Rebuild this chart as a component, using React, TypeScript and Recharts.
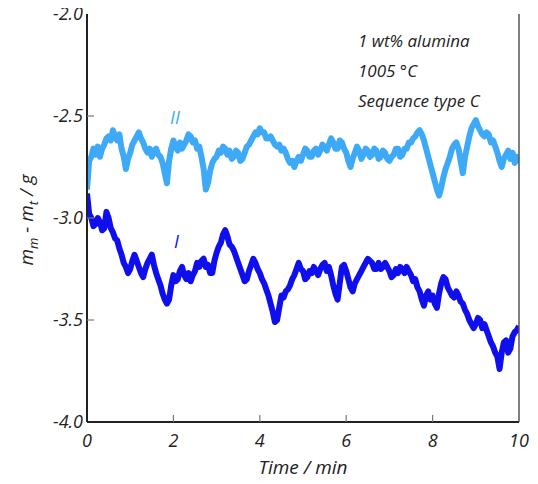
import React from 'react';
import { LineChart, Line, XAxis, YAxis } from 'recharts';

// m_m - m_t in g, read every 0.05 min from 0 to 10 min
const valuesII = [
    -2.86, -2.72, -2.70, -2.66, -2.69, -2.65, -2.70, -2.66, -2.64, -2.61,
    -2.60, -2.62, -2.57, -2.60, -2.62, -2.59, -2.66, -2.70, -2.76, -2.71,
    -2.68, -2.64, -2.62, -2.60, -2.58, -2.61, -2.63, -2.66, -2.68, -2.66,
    -2.70, -2.67, -2.66, -2.69, -2.70, -2.73, -2.78, -2.83, -2.72, -2.66,
    -2.62, -2.65, -2.67, -2.63, -2.66, -2.64, -2.62, -2.59, -2.60, -2.63,
    -2.62, -2.66, -2.65, -2.70, -2.76, -2.86, -2.83, -2.77, -2.73, -2.71,
    -2.70, -2.67, -2.68, -2.65, -2.66, -2.69, -2.67, -2.71, -2.70, -2.67,
    -2.68, -2.72, -2.71, -2.68, -2.65, -2.64, -2.62, -2.60, -2.58, -2.59,
    -2.56, -2.58, -2.58, -2.61, -2.61, -2.60, -2.62, -2.64, -2.65, -2.64,
    -2.67, -2.66, -2.68, -2.71, -2.73, -2.72, -2.75, -2.72, -2.70, -2.72,
    -2.69, -2.66, -2.67, -2.70, -2.70, -2.67, -2.66, -2.69, -2.67, -2.64,
    -2.65, -2.67, -2.64, -2.61, -2.63, -2.66, -2.66, -2.62, -2.63, -2.66,
    -2.68, -2.72, -2.75, -2.71, -2.68, -2.65, -2.67, -2.71, -2.69, -2.66,
    -2.67, -2.70, -2.69, -2.66, -2.67, -2.71, -2.70, -2.67, -2.68, -2.71,
    -2.72, -2.70, -2.69, -2.66, -2.66, -2.70, -2.69, -2.66, -2.66, -2.63,
    -2.63, -2.61, -2.60, -2.58, -2.57, -2.59, -2.62, -2.66, -2.70, -2.74,
    -2.78, -2.82, -2.86, -2.89, -2.85, -2.80, -2.76, -2.73, -2.70, -2.66,
    -2.64, -2.63, -2.66, -2.72, -2.78, -2.70, -2.65, -2.60, -2.56, -2.54,
    -2.52, -2.55, -2.57, -2.59, -2.60, -2.58, -2.59, -2.63, -2.62, -2.65,
    -2.68, -2.72, -2.75, -2.71, -2.69, -2.67, -2.71, -2.68, -2.73, -2.70,
    -2.73,
];

const valuesI = [
    -2.88, -2.98, -3.00, -3.04, -3.03, -3.00, -3.02, -3.06, -3.05, -2.97,
    -3.00, -3.05, -3.07, -3.10, -3.11, -3.15, -3.18, -3.22, -3.24, -3.27,
    -3.25, -3.21, -3.18, -3.21, -3.24, -3.27, -3.29, -3.25, -3.22, -3.20,
    -3.18, -3.23, -3.27, -3.30, -3.33, -3.37, -3.40, -3.42, -3.40, -3.33,
    -3.28, -3.31, -3.30, -3.26, -3.24, -3.28, -3.30, -3.27, -3.31, -3.28,
    -3.26, -3.22, -3.24, -3.21, -3.20, -3.24, -3.23, -3.27, -3.27, -3.21,
    -3.17, -3.14, -3.12, -3.08, -3.06, -3.09, -3.13, -3.14, -3.16, -3.19,
    -3.22, -3.25, -3.28, -3.31, -3.30, -3.26, -3.23, -3.20, -3.22, -3.25,
    -3.27, -3.30, -3.32, -3.35, -3.38, -3.42, -3.46, -3.51, -3.50, -3.44,
    -3.38, -3.39, -3.36, -3.35, -3.33, -3.30, -3.28, -3.25, -3.22, -3.25,
    -3.26, -3.30, -3.29, -3.26, -3.27, -3.24, -3.26, -3.28, -3.25, -3.23,
    -3.22, -3.26, -3.24, -3.28, -3.33, -3.37, -3.40, -3.32, -3.24, -3.23,
    -3.26, -3.30, -3.34, -3.36, -3.32, -3.30, -3.28, -3.26, -3.24, -3.22,
    -3.20, -3.21, -3.22, -3.25, -3.25, -3.22, -3.25, -3.24, -3.22, -3.24,
    -3.26, -3.29, -3.28, -3.25, -3.27, -3.24, -3.25, -3.27, -3.24, -3.26,
    -3.28, -3.31, -3.30, -3.34, -3.36, -3.40, -3.43, -3.38, -3.36, -3.40,
    -3.38, -3.42, -3.44, -3.37, -3.32, -3.29, -3.30, -3.34, -3.36, -3.38,
    -3.39, -3.36, -3.38, -3.41, -3.42, -3.45, -3.47, -3.50, -3.52, -3.54,
    -3.52, -3.49, -3.50, -3.54, -3.52, -3.55, -3.58, -3.61, -3.63, -3.66,
    -3.68, -3.74, -3.66, -3.61, -3.60, -3.66, -3.64, -3.58, -3.56, -3.55,
    -3.53,
];

const STEP = 0.05; // sampling interval, min
const xTicks = [0, 2, 4, 6, 8, 10];
const yTicks = [-4.0, -3.5, -3.0, -2.5, -2.0];
const notes = ['1 wt% alumina', '1005 \u00b0C', 'Sequence type C'];

const seriesI = valuesI.map((v, i) => ({ t: +(i * STEP).toFixed(2), v }));
const seriesII = valuesII.map((v, i) => ({ t: +(i * STEP).toFixed(2), v }));

const FONT = '"Open Sans", sans-serif';
const TICK_GREY = '#777';
const LIGHT = '#3DA9F7';
const DARK = '#0F0FEE';

const BottomTick = (props: any) => {
    const { x, y, payload } = props;
    const inner = payload.value !== 0 && payload.value !== 10;
    return (
        <g>
            {inner && <line x1={x} y1={y} x2={x} y2={y - 7} stroke={TICK_GREY} strokeWidth={1.2} />}
            <text x={x} y={y + 25} textAnchor="middle" fontSize={18} fontStyle="italic" fontFamily={FONT} fill="#222">
                {payload.value}
            </text>
        </g>
    );
};

const TopTick = (props: any) => {
    const { x, y, payload } = props;
    if (payload.value === 0 || payload.value === 10) return <g />;
    return <line x1={x} y1={y} x2={x} y2={y + 7} stroke={TICK_GREY} strokeWidth={1.2} />;
};

const LeftTick = (props: any) => {
    const { x, y, payload } = props;
    const inner = payload.value !== -4 && payload.value !== -2;
    return (
        <g>
            {inner && <line x1={x} y1={y} x2={x + 7} y2={y} stroke={TICK_GREY} strokeWidth={1.2} />}
            <text x={x - 4} y={y} dy="0.36em" textAnchor="end" fontSize={18} fontStyle="italic" fontFamily={FONT} fill="#222">
                {payload.value.toFixed(1)}
            </text>
        </g>
    );
};

const RightTick = (props: any) => {
    const { x, y, payload } = props;
    if (payload.value === -4 || payload.value === -2) return <g />;
    return <line x1={x} y1={y} x2={x - 7} y2={y} stroke={TICK_GREY} strokeWidth={1.2} />;
};

const YTitle = (props: any) => {
    const { viewBox } = props;
    const cx = viewBox.x + 33;
    const cy = viewBox.y + viewBox.height / 2 + 2;
    return (
        <text transform={`translate(${cx},${cy}) rotate(-90)`} textAnchor="middle" fontSize={19} fontStyle="italic" fontFamily={FONT} fill="#222">
            m<tspan fontSize={13} dy={5}>m</tspan>
            <tspan dy={-5}> - m</tspan>
            <tspan fontSize={13} dy={5}>t</tspan>
            <tspan dy={-5}>{'  /  g'}</tspan>
        </text>
    );
};

const XTitle = (props: any) => {
    const { viewBox } = props;
    return (
        <text x={viewBox.x + viewBox.width / 2} y={viewBox.y + 52} textAnchor="middle" fontSize={19} fontStyle="italic" fontFamily={FONT} fill="#222">
            {'Time  /  min'}
        </text>
    );
};

export default function App() {
    return (
        <div style={{ marginTop: -8, marginLeft: -8, width: 538, height: 484 }}>
            <LineChart width={538} height={484} margin={{ top: 14, right: 0, left: 0, bottom: 0 }}>
                <XAxis
                    xAxisId={0}
                    dataKey="t"
                    type="number"
                    domain={[0, 10]}
                    ticks={xTicks}
                    height={62}
                    axisLine={{ stroke: '#222', strokeWidth: 2 }}
                    tickLine={false}
                    tickSize={0}
                    tickMargin={0}
                    tick={<BottomTick />}
                    interval={0}
                    label={<XTitle />}
                    allowDataOverflow
                />
                <XAxis
                    xAxisId="top"
                    orientation="top"
                    type="number"
                    domain={[0, 10]}
                    ticks={xTicks}
                    height={0}
                    axisLine={{ stroke: '#555', strokeWidth: 1.5 }}
                    tickLine={false}
                    tickSize={0}
                    tickMargin={0}
                    tick={<TopTick />}
                    interval={0}
                />
                <YAxis
                    yAxisId={0}
                    type="number"
                    domain={[-4, -2]}
                    ticks={yTicks}
                    width={87}
                    axisLine={{ stroke: '#222', strokeWidth: 2 }}
                    tickLine={false}
                    tickSize={0}
                    tickMargin={0}
                    tick={<LeftTick />}
                    interval={0}
                    label={<YTitle />}
                    allowDataOverflow
                />
                <YAxis
                    yAxisId="right"
                    orientation="right"
                    type="number"
                    domain={[-4, -2]}
                    ticks={yTicks}
                    width={19}
                    axisLine={{ stroke: '#555', strokeWidth: 1.5 }}
                    tickLine={false}
                    tickSize={0}
                    tickMargin={0}
                    tick={<RightTick />}
                    interval={0}
                />
                <Line data={seriesII} dataKey="v" type="linear" stroke={LIGHT} strokeWidth={6} strokeLinejoin="round" dot={false} isAnimationActive={false} />
                <Line data={seriesI} dataKey="v" type="linear" stroke={DARK} strokeWidth={6} strokeLinejoin="round" dot={false} isAnimationActive={false} />
                <text x={170} y={124} fontSize={18} fontStyle="italic" fontFamily={FONT} fill={LIGHT}>II</text>
                <text x={174} y={248} fontSize={18} fontStyle="italic" fontFamily={FONT} fill={DARK}>I</text>
                {notes.map((n, i) => (
                    <text key={n} x={358} y={47 + i * 30} fontSize={17} fontStyle="italic" fontFamily={FONT} fill="#222">
                        {n}
                    </text>
                ))}
            </LineChart>
        </div>
    );
}
